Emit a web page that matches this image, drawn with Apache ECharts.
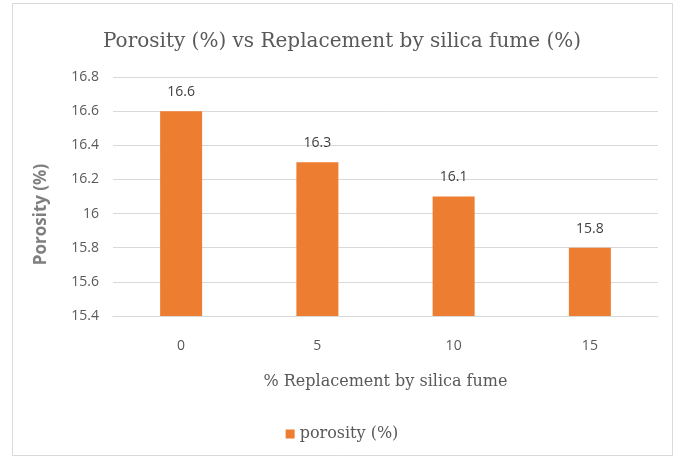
<!DOCTYPE html>
<html lang="en" style="height: 100%">
<head>
  <meta charset="utf-8">
</head>
<body style="height: 100%; margin: 0; background: #fff">
  <div id="container" style="width: 684px; height: 461px"></div>

  <script type="text/javascript" src="https://cdn.jsdelivr.net/npm/echarts@6/dist/echarts.min.js"></script>

  <script type="text/javascript">
    var categories = ['0', '5', '10', '15'];
    var porosity = [16.6, 16.3, 16.1, 15.8];

    var dom = document.getElementById('container');
    var myChart = echarts.init(dom, null, { renderer: 'canvas' });
    var option;

    option = {
      backgroundColor: '#fff',
      graphic: [
        {
          type: 'rect',
          shape: { x: 12.5, y: 3.5, width: 660, height: 452 },
          style: { fill: 'none', stroke: '#d9d9d9', lineWidth: 1 },
          silent: true
        }
      ],
      title: {
        text: 'Porosity (%) vs Replacement by silica fume (%)',
        left: 'center',
        top: 27,
        textStyle: {
          fontFamily: 'DejaVu Serif',
          fontWeight: 'normal',
          fontSize: 20,
          color: '#595959'
        }
      },
      legend: {
        bottom: 14,
        left: 'center',
        itemWidth: 9,
        itemHeight: 9,
        icon: 'rect',
        textStyle: {
          fontFamily: 'DejaVu Serif',
          fontSize: 16,
          color: '#595959'
        },
        data: ['porosity (%)']
      },
      grid: {
        left: 113,
        right: 26,
        top: 77,
        bottom: 145,
        containLabel: false
      },
      xAxis: {
        type: 'category',
        data: categories,
        name: '% Replacement by silica fume',
        nameLocation: 'middle',
        nameGap: 58,
        nameTextStyle: {
          fontFamily: 'DejaVu Serif',
          fontSize: 16,
          color: '#595959'
        },
        axisLine: { lineStyle: { color: '#d9d9d9' } },
        axisTick: { show: false },
        axisLabel: {
          margin: 23,
          fontFamily: 'Open Sans',
          fontSize: 14,
          color: '#595959'
        }
      },
      yAxis: {
        type: 'value',
        min: 15.4,
        max: 16.8,
        interval: 0.2,
        name: 'Porosity (%)',
        nameLocation: 'middle',
        nameRotate: 90,
        nameGap: 63,
        nameTextStyle: {
          fontFamily: 'Open Sans',
          fontWeight: 'bold',
          fontSize: 17,
          color: '#7f7f7f',
          padding: [0, 36, 0, 0]
        },
        axisLine: { show: false },
        axisTick: { show: false },
        splitLine: { lineStyle: { color: '#d9d9d9' } },
        axisLabel: {
          margin: 14,
          fontFamily: 'Open Sans',
          fontSize: 14,
          color: '#595959',
          formatter: function (v) {
            return String(Math.round(v * 10) / 10);
          }
        }
      },
      series: [
        {
          name: 'porosity (%)',
          type: 'bar',
          data: porosity,
          barWidth: 42,
          itemStyle: { color: '#ed7d31' },
          label: {
            show: true,
            position: 'top',
            distance: 12,
            fontFamily: 'Open Sans',
            fontSize: 14,
            color: '#404040'
          }
        }
      ]
    };

    if (option && typeof option === 'object') {
      myChart.setOption(option);
    }

    window.addEventListener('resize', myChart.resize);
  </script>
</body>
</html>
